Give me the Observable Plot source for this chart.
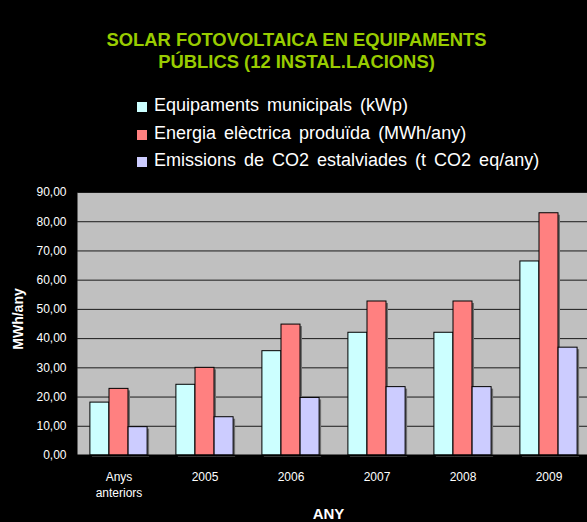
<!DOCTYPE html>
<html>
<head>
<meta charset="utf-8">
<script src="https://cdn.jsdelivr.net/npm/d3@7"></script>
<script src="https://cdn.jsdelivr.net/npm/@observablehq/plot@0.6"></script>
<style>
  html, body { margin: 0; padding: 0; background: #000; overflow: hidden; }
  body { width: 587px; height: 522px; position: relative; font-family: "Liberation Sans", Arial, sans-serif; }
  #title { position: absolute; left: 0; width: 593px; top: 29px; text-align: center; color: #99CC00;
           font-weight: bold; font-size: 18.4px; line-height: 21.5px; }
  #legend { position: absolute; left: 137px; top: 92px; color: #fff; font-size: 18px; word-spacing: 3px; }
  .item { position: relative; height: 27.5px; line-height: 27.5px; padding-left: 17px; white-space: nowrap; }
  .sw { position: absolute; left: 0; top: 10px; width: 10px; height: 10px; }
  #chart { position: absolute; left: 0; top: 0; }
</style>
</head>
<body>
<div id="title"></div>
<div id="legend"></div>
<div id="chart"></div>
<script>
const titleLines = ["SOLAR FOTOVOLTAICA EN EQUIPAMENTS", "PÚBLICS (12 INSTAL.LACIONS)"];
const categories = ["Anys anteriors", "2005", "2006", "2007", "2008", "2009"];
const tickLabels = ["Anys\nanteriors", "2005", "2006", "2007", "2008", "2009"];
const seriesNames = ["Equipaments municipals (kWp)", "Energia elèctrica produïda (MWh/any)", "Emissions de CO2 estalviades (t CO2 eq/any)"];
const seriesColors = ["#CCFFFF", "#FF8080", "#CCCCFF"];
const equipaments = [18.1, 24.2, 35.7, 42.0, 42.0, 66.4];
const energia = [22.8, 30.0, 44.8, 52.7, 52.7, 82.9];
const emissions = [9.7, 13.1, 19.7, 23.4, 23.4, 36.9];
const yTicks = [0, 10, 20, 30, 40, 50, 60, 70, 80, 90];
const yLabel = "MWh/any";
const xLabel = "ANY";

const seriesValues = [equipaments, energia, emissions];

document.getElementById("title").innerHTML = titleLines.join("<br>");
const legend = document.getElementById("legend");
seriesNames.forEach((name, j) => {
  const item = document.createElement("div");
  item.className = "item";
  const sw = document.createElement("span");
  sw.className = "sw";
  sw.style.background = seriesColors[j];
  item.appendChild(sw);
  item.appendChild(document.createTextNode(name));
  legend.appendChild(item);
});

const rows = categories.flatMap((c, i) => seriesNames.map((s, j) => ({cat: c, series: s, j, value: seriesValues[j][i]})));
const barStep = 19.1;
const offsets = [-barStep, 0, barStep];

const shadowMarks = seriesNames.map((s, j) => Plot.barY(rows.filter(r => r.j === j), {
  x: "cat", y: "value", fill: "#6e6e6e", dx: offsets[j] + 2, dy: 2
}));
const barMarks = seriesNames.map((s, j) => Plot.barY(rows.filter(r => r.j === j), {
  x: "cat", y: "value", fill: seriesColors[j], stroke: "#000", strokeWidth: 1, dx: offsets[j]
}));

const fmt = d => d.toFixed(2).replace(".", ",");

const chart = Plot.plot({
  width: 587,
  height: 522,
  marginTop: 192,
  marginBottom: 67,
  marginLeft: 77,
  marginRight: -4,
  style: {background: "transparent", fontFamily: "'Liberation Sans', Arial, sans-serif", fontSize: "12px", color: "#fff", overflow: "visible"},
  x: {domain: categories, paddingInner: 0.779, paddingOuter: 0.365, label: null},
  y: {domain: [0, 90], label: null},
  marks: [
    Plot.frame({fill: "#C0C0C0", stroke: null}),
    Plot.gridY(yTicks, {stroke: "#1a1a1a", strokeOpacity: 1}),
    ...shadowMarks,
    ...barMarks,
    Plot.ruleY([0], {stroke: "#000", strokeWidth: 2}),
    Plot.axisY(yTicks, {tickSize: 0, tickPadding: 11, tickFormat: fmt, fill: "#fff", fontSize: 12, label: null}),
    Plot.axisX({tickSize: 0, tickPadding: 14, tickFormat: d => tickLabels[categories.indexOf(d)], fill: "#fff", fontSize: 12, lineHeight: 1.33, label: null}),
    Plot.text([yLabel], {text: d => d, frameAnchor: "left", textAnchor: "middle", dx: -58.5, dy: -5, rotate: -90, fill: "#fff", fontWeight: "bold", fontSize: 14}),
    Plot.text([xLabel], {text: d => d, frameAnchor: "bottom", lineAnchor: "top", dy: 53, dx: -6, fill: "#fff", fontWeight: "bold", fontSize: 15})
  ]
});
document.getElementById("chart").appendChild(chart);
</script>
</body>
</html>
